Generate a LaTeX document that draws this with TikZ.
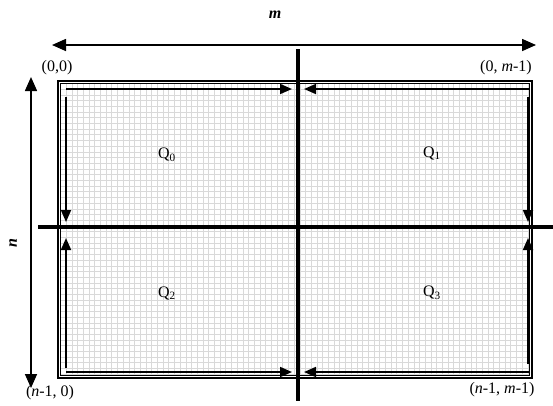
\documentclass[tikz,border=0pt]{standalone}
\usepackage{fontspec}
\setmainfont{Liberation Serif}
\usetikzlibrary{arrows.meta}

\begin{document}
\begin{tikzpicture}[x=1pt,y=-1pt,
  flow/.style={line width=1.8pt,-{Triangle[length=12pt,width=10pt]}},
  span/.style={line width=1.6pt,{Triangle[length=14pt,width=12pt]}-{Triangle[length=14pt,width=12pt]}},
  cut/.style={line width=4.2pt},
  lbl/.style={font=\fontsize{16}{18}\selectfont,inner sep=0pt}]
  \useasboundingbox (0,0) rectangle (553,405);
  % matrix cells
  \fill[white] (58,81) rectangle (532,378);
  \foreach \gx in {60.5,66.2,...,530} \draw[gray!30,line width=0.7pt] (\gx,83.5) -- (\gx,375.5);
  \foreach \gy in {83.5,89.2,...,375.5} \draw[gray!30,line width=0.7pt] (60.5,\gy) -- (529.5,\gy);
  \draw[line width=1.3pt] (58,81) rectangle (532,378);
  \draw[line width=0.6pt] (60.5,83.5) rectangle (529.5,375.5);
  % sizes
  \draw[span] (52,45) -- (536,45);
  \node[lbl] (mlbl) at (275,15) {\textbf{\textit{m}}};
  \draw[span] (31,77) -- (31,388);
  \node[lbl,rotate=90] (nlbl) at (13,243) {\textbf{\textit{n}}};
  % corners
  \node[lbl] (c00) at (57,68) {(0,0)};
  \node[lbl] (c0m) at (506,68) {(0, \textit{m}-1)};
  \node[lbl] (cn0) at (50,393) {(\textit{n}-1, 0)};
  \node[lbl] (cnm) at (502,390) {(\textit{n}-1, \textit{m}-1)};
  % split lines
  \draw[cut] (298,49) -- (298,401);
  \draw[cut] (38,227) -- (553,227);
  % sweeps towards the cuts
  \draw[flow] (66,89) -- (292,89);
  \draw[flow] (530,89) -- (304,89);
  \draw[flow] (66,372) -- (292,372);
  \draw[flow] (530,372) -- (304,372);
  \draw[flow] (66,97) -- (66,222);
  \draw[flow] (66,368) -- (66,238);
  \draw[flow] (528,97) -- (528,222);
  \draw[flow] (528,364) -- (528,238);
  % quadrants
  \node[lbl] (q0) at (167,155) {Q\textsubscript{0}};
  \node[lbl] (q1) at (432,153) {Q\textsubscript{1}};
  \node[lbl] (q2) at (167,293) {Q\textsubscript{2}};
  \node[lbl] (q3) at (432,293) {Q\textsubscript{3}};
\end{tikzpicture}
\end{document}
